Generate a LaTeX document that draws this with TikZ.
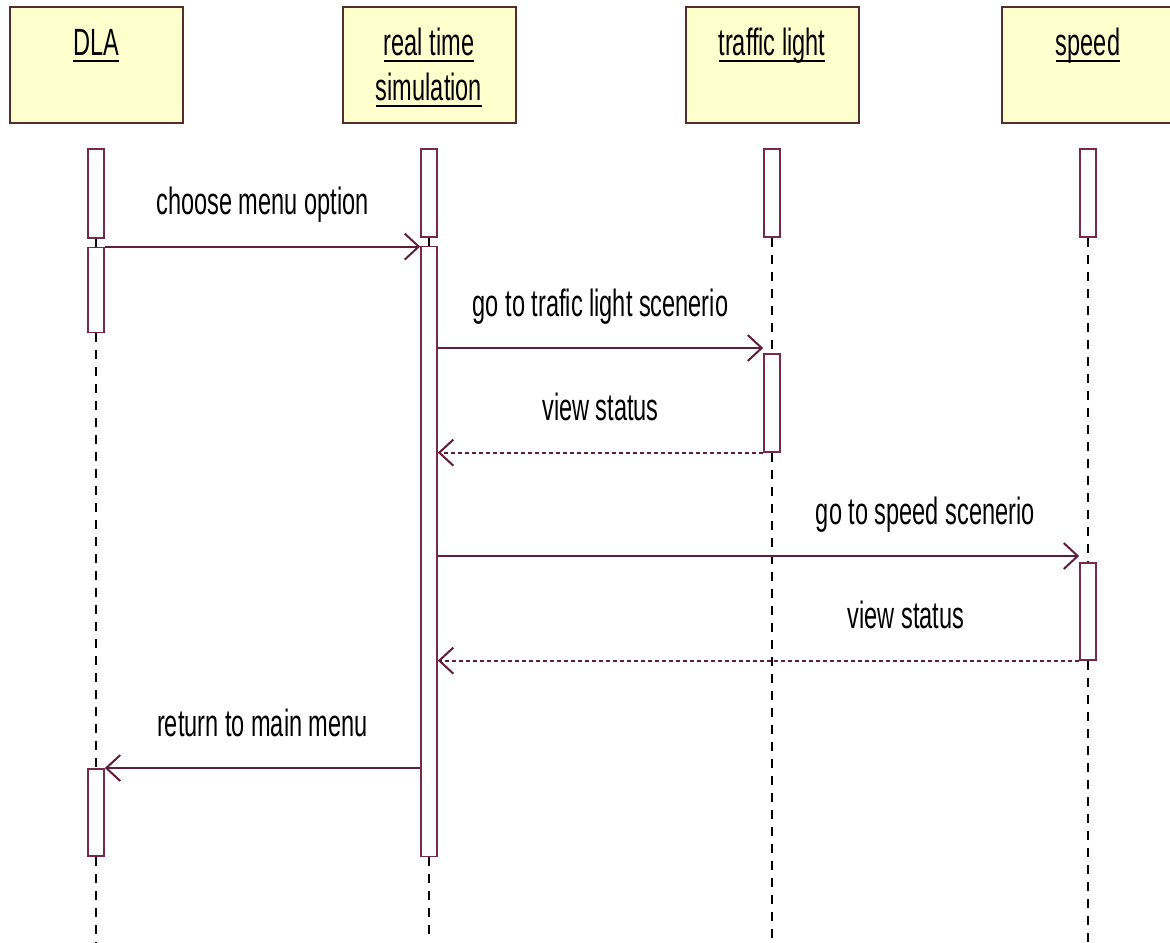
\documentclass[tikz,border=0pt]{standalone}
\usepackage{fontspec}
\setmainfont{Liberation Sans}
\usepackage{tikz}
\usetikzlibrary{positioning, arrows.meta}

\definecolor{boxfill}{RGB}{255,255,206}
\definecolor{boxline}{RGB}{85,45,45}
\definecolor{barline}{RGB}{120,40,75}
\definecolor{msgline}{RGB}{95,30,60}

\newcommand{\ulname}[1]{\setbox0\hbox{#1}\rlap{\rule[-3.5pt]{\wd0}{1pt}}\box0}

\begin{document}
\begin{tikzpicture}
	[x=0.5pt, y=-0.5pt,
	 font=\fontsize{19}{22.5}\selectfont,
	 object/.style={draw=boxline, fill=boxfill, line width=1pt, minimum width=86.5pt, minimum height=58pt, inner sep=0pt},
	 objname/.style={anchor=base, xscale=0.62, inner sep=0pt, align=center},
	 activ/.style={draw=barline, fill=white, line width=0.8pt, minimum width=8pt, inner sep=0pt, anchor=north},
	 life/.style={dash pattern=on 4.5pt off 4pt, line width=0.75pt},
	 msg/.style={draw=msgline, line width=1pt, -{Straight Barb[length=7pt, width=13pt]}},
	 reply/.style={msg, dash pattern=on 2pt off 1.5pt},
	 lbl/.style={anchor=base, yshift=16pt, xscale=0.62, inner sep=0pt, text=black}]
	\useasboundingbox (0,0) rectangle (1170,942);
	\coordinate (bottom) at (0,942);

	% objects
	\node[object] (dla) at (96,65) {};
	\node[object] (rts) at (429,65) {};
	\node[object] (tl) at (772,65) {};
	\node[object] (sp) at (1088,65) {};
	\node[objname] (dlaname) at (96,55) {\ulname{DLA}};
	\node[objname] (rtsname) at (429,100) {\ulname{real time}\\\ulname{simulation}};
	\node[objname] (tlname) at (772,55) {\ulname{traffic light}};
	\node[objname] (spname) at (1088,55) {\ulname{speed}};

	% activations
	\node[activ, minimum height=44.5pt] (d1) [below=12pt of dla] {};
	\node[activ, minimum height=42.5pt] (d2) [below=4pt of d1] {};
	\node[activ, minimum height=43.5pt] (d3) at (96,768) {};
	\node[activ, minimum height=44pt] (r1) [below=12pt of rts] {};
	\node[activ, minimum height=305pt] (r2) [below=4pt of r1] {};
	\node[activ, minimum height=44pt] (t1) [below=12pt of tl] {};
	\node[activ, minimum height=49pt] (t2) at (772,353) {};
	\node[activ, minimum height=44pt] (s1) [below=12pt of sp] {};
	\node[activ, minimum height=48.5pt] (s2) at (1088,562) {};

	% lifelines
	\draw[life] (d1.south) -- (d2.north) (d2.south) -- (d3.north) (d3.south) -- (d3.south |- bottom);
	\draw[life] (r1.south) -- (r2.north) (r2.south) -- (r2.south |- bottom);
	\draw[life] (t1.south) -- (t2.north) (t2.south) -- (t2.south |- bottom);
	\draw[life] (s1.south) -- (s2.north) (s2.south) -- (s2.south |- bottom);

	% messages
	\path (d2.north east) edge[msg] node[lbl] {choose menu option} (d2.north east -| r2.west)
	      ([yshift=2.5pt]t2.north west -| r2.east) edge[msg] node[lbl] {go to trafic light scenerio} ([yshift=2.5pt]t2.north west)
	      (t2.south west) edge[reply] node[lbl] {view status} (t2.south west -| r2.east)
	      ([yshift=3pt]s2.north west -| r2.east) edge[msg] node[lbl, pos=0.76] {go to speed scenerio} ([yshift=3pt]s2.north west)
	      (s2.south west) edge[reply] node[lbl, pos=0.27] {view status} (s2.south west -| r2.east)
	      (d3.north -| r2.west) edge[msg] node[lbl] {return to main menu} (d3.north east);
\end{tikzpicture}
\end{document}
